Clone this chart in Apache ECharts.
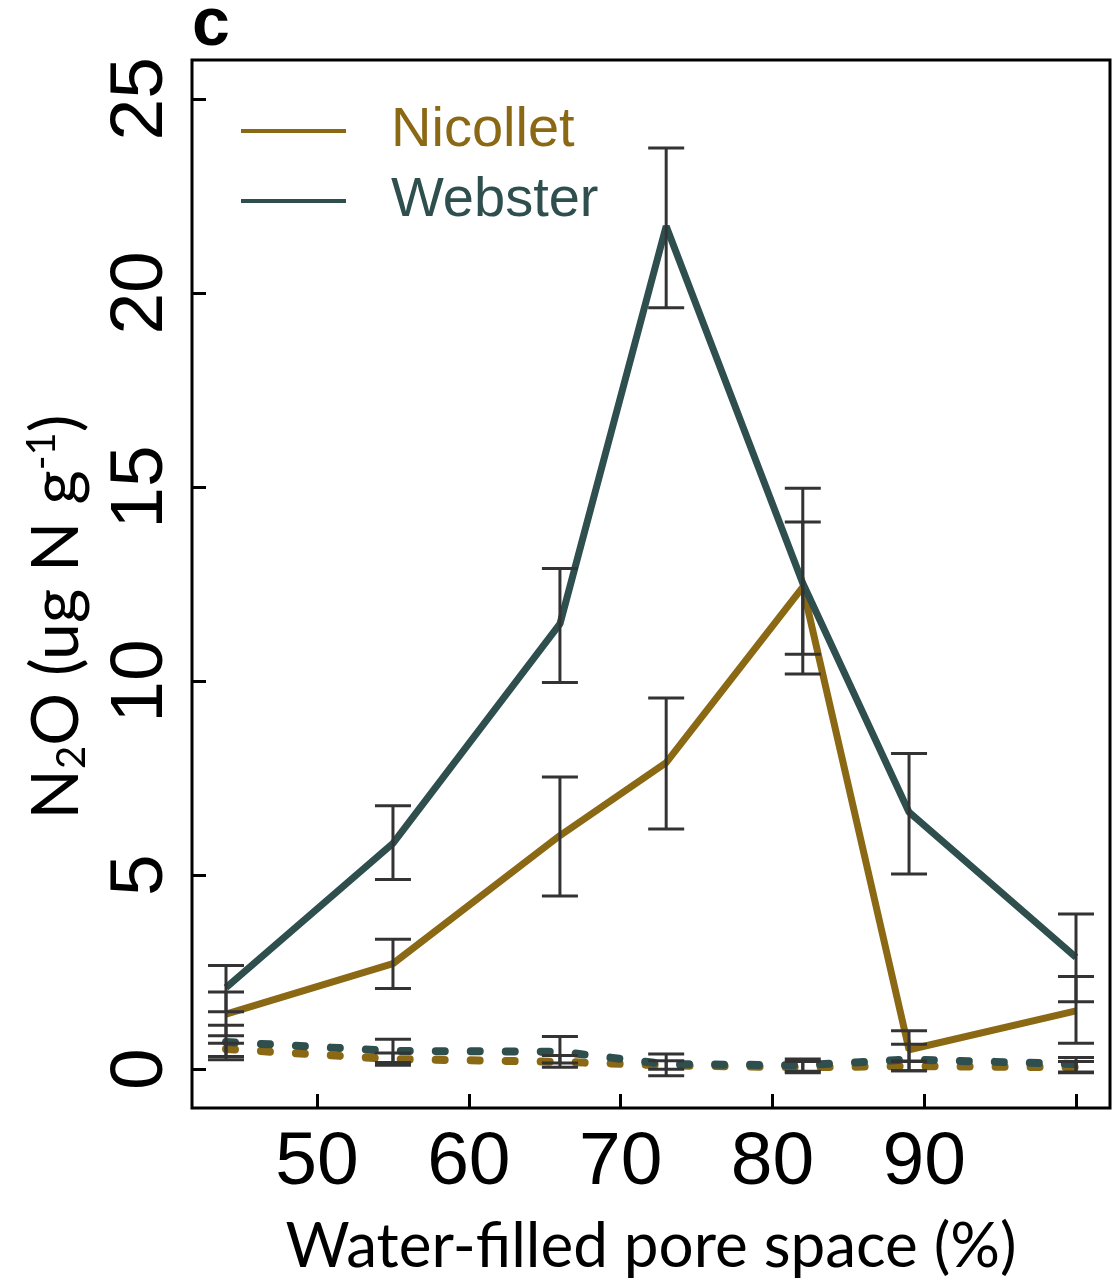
<!DOCTYPE html>
<html>
<head>
<meta charset="utf-8">
<script src="https://cdn.jsdelivr.net/npm/echarts@6/dist/echarts.min.js"></script>
<style>
html,body{margin:0;padding:0;background:#fff}
#main{width:1117px;height:1286px}
</style>
</head>
<body>
<div id="main"></div>
<script>
// water-filled pore space (%)
var wfps = [44, 55, 66, 73, 82, 89, 100];
var xTicks = [50, 60, 70, 80, 90, 100];
var xLabels = [50, 60, 70, 80, 90];
var yTicks = [0, 5, 10, 15, 20, 25];

// solid lines: mean and error bar ends
var nicollet = [1.42, 2.72, 6.02, 7.9, 12.42, 0.5, 1.5];
var nicolletLow = [0.86, 2.08, 4.46, 6.19, 10.69, 0.21, 0.67];
var nicolletHigh = [1.99, 3.35, 7.53, 9.56, 14.1, 0.99, 2.39];
var webster = [2.1, 5.82, 11.47, 21.72, 12.52, 6.62, 2.88];
var websterLow = [1.48, 4.89, 9.96, 19.62, 10.18, 5.03, 1.74];
var websterHigh = [2.67, 6.79, 12.9, 23.73, 14.97, 8.13, 4.0];

// dashed lines (low values)
var nicolletDash = [0.52, 0.26, 0.19, 0.1, 0.05, 0.08, 0.05];
var nicolletDashLow = [0.24, 0.1, 0.05, 0.0, -0.05, -0.04, -0.09];
var nicolletDashHigh = [0.67, 0.42, 0.35, 0.22, 0.2, 0.2, 0.2];
var websterDash = [0.7, 0.47, 0.45, 0.13, 0.1, 0.25, 0.13];
var websterDashLow = [0.33, 0.17, 0.16, -0.17, -0.09, -0.04, -0.07];
var websterDashHigh = [1.13, 0.77, 0.84, 0.39, 0.26, 0.64, 0.3];

var gold = '#8B6914';
var slate = '#2F4F4F';

function pairs(ys){
    var out = [];
    for (var i = 0; i < wfps.length; i++) out.push([wfps[i], ys[i]]);
    return out;
}
function triples(lo, hi){
    var out = [];
    for (var i = 0; i < wfps.length; i++) out.push([wfps[i], lo[i], hi[i]]);
    return out;
}
// error bar with caps
function errorBar(params, api){
    var x = api.value(0);
    var lo = api.coord([x, api.value(1)]);
    var hi = api.coord([x, api.value(2)]);
    var half = 18;
    var st = {stroke: '#333333', lineWidth: 3};
    return {type: 'group', children: [
        {type: 'line', shape: {x1: lo[0], y1: lo[1], x2: hi[0], y2: hi[1]}, style: st},
        {type: 'line', shape: {x1: lo[0] - half, y1: lo[1], x2: lo[0] + half, y2: lo[1]}, style: st},
        {type: 'line', shape: {x1: hi[0] - half, y1: hi[1], x2: hi[0] + half, y2: hi[1]}, style: st}
    ]};
}
function lineSeries(name, ys, color, dashed){
    return {
        name: name, type: 'line', data: pairs(ys), symbol: 'none', silent: true,
        lineStyle: dashed
            ? {color: color, width: 8, type: [9, 26], cap: 'round'}
            : {color: color, width: 7},
        itemStyle: {color: color}
    };
}
function barSeries(lo, hi){
    return {type: 'custom', renderItem: errorBar, data: triples(lo, hi), silent: true, z: 5};
}

var chart = echarts.init(document.getElementById('main'));
var tickFont = "'Liberation Sans Narrow','Liberation Sans',Arial,sans-serif";
var option = {
    animation: false,
    backgroundColor: '#fff',
    grid: {left: 192, top: 60, right: 7, bottom: 178, show: true, borderColor: '#000', borderWidth: 3},
    legend: {
        left: 236, top: 98, orient: 'vertical', itemWidth: 105, itemHeight: 4, itemGap: 14,
        icon: 'rect',
        textStyle: {fontSize: 56, fontFamily: "'Liberation Sans',Arial,sans-serif", padding: [0, 0, 0, 40]},
        data: [
            {name: 'Nicollet', textStyle: {color: gold}},
            {name: 'Webster', textStyle: {color: slate}}
        ]
    },
    xAxis: {
        type: 'value', min: 41.76, max: 102.24,
        name: 'Water-filled pore space (%)', nameLocation: 'middle', nameGap: 108,
        nameTextStyle: {fontSize: 62, fontFamily: "Lato,'Open Sans',sans-serif", color: '#000'},
        axisLine: {show: false, onZero: false},
        axisTick: {show: true, inside: true, length: 14, customValues: xTicks, lineStyle: {color: '#000', width: 3}},
        axisLabel: {customValues: xLabels, fontSize: 75, fontFamily: tickFont, color: '#000', margin: 18},
        splitLine: {show: false}
    },
    yAxis: {
        type: 'value', min: -1, max: 26,
        axisLine: {show: false, onZero: false},
        axisTick: {show: true, inside: true, length: 14, customValues: yTicks, lineStyle: {color: '#000', width: 3}},
        axisLabel: {customValues: yTicks, rotate: 90, fontSize: 75, fontFamily: tickFont, color: '#000', margin: 13},
        splitLine: {show: false}
    },
    graphic: [
        {type: 'text', left: 192, top: -8, style: {text: 'c', fontSize: 68, fontWeight: 'bold', fontFamily: "'Liberation Sans',Arial,sans-serif", fill: '#000'}},
        {type: 'text', x: 57, y: 617, rotation: Math.PI / 2, style: {
            text: '{n|N}{sub|2}{n|O (ug N g}{sup|-1}{n|)}',
            align: 'center', verticalAlign: 'middle', fill: '#000',
            rich: {
                n: {fontSize: 66, fontFamily: "Lato,'Open Sans',sans-serif", fill: '#000'},
                sub: {fontSize: 40, fontFamily: "Lato,'Open Sans',sans-serif", fill: '#000', padding: [30, 0, 0, 0]},
                sup: {fontSize: 40, fontFamily: "Lato,'Open Sans',sans-serif", fill: '#000', padding: [0, 0, 30, 0]}
            }
        }}
    ],
    series: [
        lineSeries('Nicollet', nicollet, gold, false),
        lineSeries('Webster', webster, slate, false),
        lineSeries('Nicollet low', nicolletDash, gold, true),
        lineSeries('Webster low', websterDash, slate, true),
        barSeries(nicolletLow, nicolletHigh),
        barSeries(websterLow, websterHigh),
        barSeries(nicolletDashLow, nicolletDashHigh),
        barSeries(websterDashLow, websterDashHigh)
    ]
};
chart.setOption(option);
</script>
</body>
</html>
